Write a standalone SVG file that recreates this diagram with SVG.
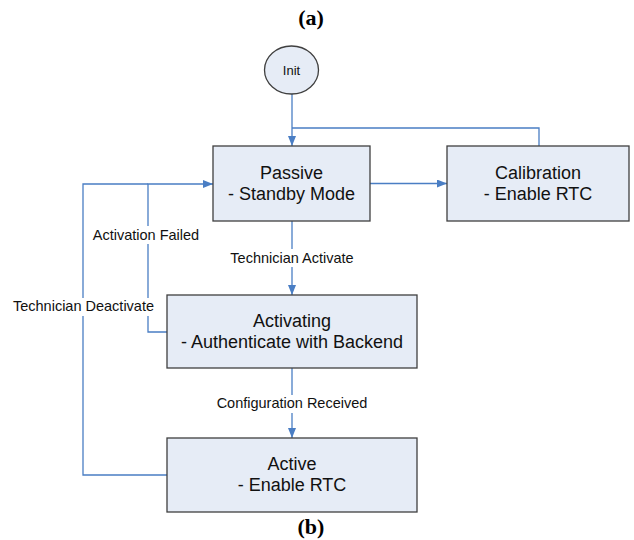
<svg xmlns="http://www.w3.org/2000/svg" width="634" height="540" viewBox="0 0 634 540">
<style>
.box{fill:#E6ECF6;stroke:#3F3F3F;stroke-width:1.3}
.t{font-family:"Liberation Sans",Arial,sans-serif;font-size:18px;fill:#111;text-anchor:middle}
.lbl{font-family:"Liberation Sans",Arial,sans-serif;font-size:14.5px;fill:#111;text-anchor:middle}
.cap{font-family:"Liberation Serif","Times New Roman",serif;font-size:22px;font-weight:bold;fill:#000;text-anchor:middle}
.c{fill:none;stroke:#4A7EC4;stroke-width:1.3}
.bg{fill:#fff}
</style>
<defs>
<marker id="ah" markerWidth="10" markerHeight="8" refX="10" refY="4" orient="auto" markerUnits="userSpaceOnUse">
<path d="M0,0 L10,4 L0,8 Z" fill="#4A7EC4"/>
</marker>
</defs>
<rect width="634" height="540" fill="#fff"/>
<text class="cap" x="311" y="25">(a)</text>
<text class="cap" x="311" y="534">(b)</text>
<g id="connectors">
<path class="c" d="M292,94 V146" marker-end="url(#ah)"/>
<path class="c" d="M539,146 V128 H292"/>
<path class="c" d="M370,183.5 H447" marker-end="url(#ah)"/>
<path class="c" d="M292,221 V295" marker-end="url(#ah)"/>
<path class="c" d="M167,332 H148 V184 H213" marker-end="url(#ah)"/>
<path class="c" d="M167,475 H83 V184 H148"/>
<path class="c" d="M292,368 V438" marker-end="url(#ah)"/>
<rect class="bg" x="92" y="226" width="108" height="18"/>
<text class="lbl" x="146" y="240">Activation Failed</text>
<rect class="bg" x="225" y="249" width="134" height="18"/>
<text class="lbl" x="292" y="262.5">Technician Activate</text>
<rect class="bg" x="11" y="298" width="145" height="18"/>
<text class="lbl" x="83.5" y="311">Technician Deactivate</text>
<rect class="bg" x="214" y="395" width="156" height="18"/>
<text class="lbl" x="292" y="408">Configuration Received</text>
</g>
<g id="init">
<ellipse cx="291.5" cy="70" rx="27" ry="24" fill="#E6ECF6" stroke="#3F3F3F" stroke-width="1.3"/>
<text class="lbl" x="291.5" y="75" style="font-size:13px">Init</text>
</g>
<g id="passive">
<rect class="box" x="213" y="146" width="157" height="75"/>
<text class="t" x="291.5" y="179">Passive</text>
<text class="t" x="291.5" y="199.5">- Standby Mode</text>
</g>
<g id="calibration">
<rect class="box" x="447" y="146" width="182" height="75"/>
<text class="t" x="538" y="179">Calibration</text>
<text class="t" x="538" y="199.5">- Enable RTC</text>
</g>
<g id="activating">
<rect class="box" x="167" y="295" width="250" height="73"/>
<text class="t" x="292" y="327">Activating</text>
<text class="t" x="292" y="348">- Authenticate with Backend</text>
</g>
<g id="active">
<rect class="box" x="167" y="438" width="250" height="74"/>
<text class="t" x="292" y="470">Active</text>
<text class="t" x="292" y="490.5">- Enable RTC</text>
</g>
</svg>
